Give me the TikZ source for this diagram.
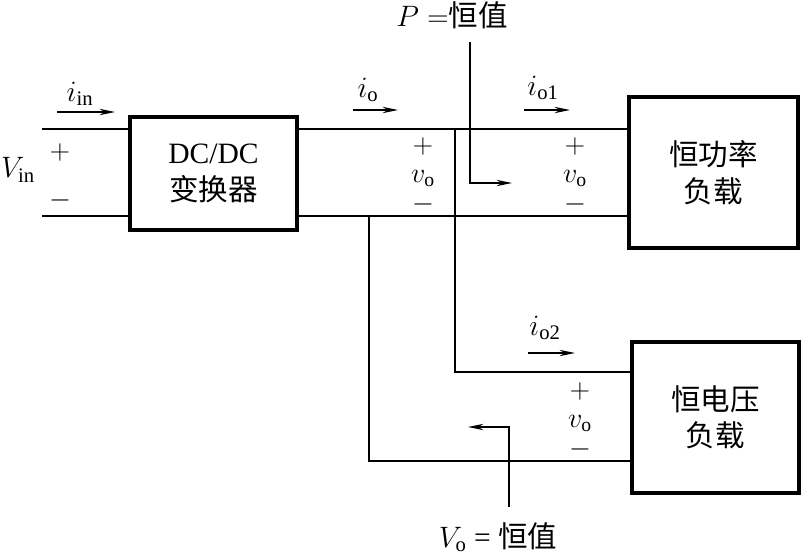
\RequirePackage{fix-cm}
\documentclass[tikz,border=0pt]{standalone}
\usepackage{fontspec}
\setmainfont{Liberation Serif}
\newfontfamily\cjk{Noto Sans CJK SC}
\usetikzlibrary{arrows.meta}
\tikzset{
  >={Stealth[length=11pt,width=4.5pt]},
  block/.style={draw, line width=2.2pt, align=center, font=\fontsize{21}{26}\selectfont},
  wire/.style={line width=1.2pt},
  flow/.style={->, line width=1.2pt},
  polarity/.style={inner sep=0pt, align=center, font=\fontsize{20}{20.5}\selectfont},
}

\begin{document}
\begin{tikzpicture}[x=0.025cm, y=-0.025cm, font=\fontsize{21}{25}\selectfont]
    \useasboundingbox (0,0) rectangle (801,554);
    % Blocos
    \node[block, minimum width=4.175cm, minimum height=2.825cm] (conv)  at (213.5,173.5) {DC/DC\\{\cjk 变换器}};
    \node[block, minimum width=4.225cm, minimum height=3.775cm] (load1) at (713.5,172.5) {{\cjk 恒功率}\\{\cjk 负载}};
    \node[block, minimum width=4.175cm, minimum height=3.775cm] (load2) at (715.5,417.5) {{\cjk 恒电压}\\{\cjk 负载}};
    % Pontos dos fios
    \coordinate (inT) at (42,129);
    \coordinate (inB) at (42,216);
    \coordinate (jT)  at (455,129);
    \coordinate (jB)  at (369,216);
    \coordinate (l2T) at (load2.west |- 0,372);
    \coordinate (l2B) at (load2.west |- 0,461);
    \draw[wire] (inT) -- (conv.west |- inT);
    \draw[wire] (inB) -- (conv.west |- inB);
    \draw[wire] (conv.east |- jT) -- (load1.west |- jT);
    \draw[wire] (conv.east |- jB) -- (load1.west |- jB);
    \draw[wire] (jT) |- (l2T);
    \draw[wire] (jB) |- (l2B);
    % Tensoes
    \node           (vin) at (18,170)  {$V_\mathrm{in}$};
    \node[polarity] (pin) at (60,152)  {$+$};
    \node[polarity] (min) at (60,200)  {$-$};
    \node[polarity] (vo1) at (423,176) {$+$\\$v_\mathrm{o}$\\$-$};
    \node[polarity] (vo2) at (575,176) {$+$\\$v_\mathrm{o}$\\$-$};
    \node[polarity] (vo3) at (580,421) {$+$\\$v_\mathrm{o}$\\$-$};
    % Correntes
    \node (iin)  at (80,94)   {$i_\mathrm{in}$};
    \node (io)   at (368,90)  {$i_\mathrm{o}$};
    \node (io1)  at (543,88)  {$i_\mathrm{o1}$};
    \node (io2)  at (545,328) {$i_\mathrm{o2}$};
    \draw[flow] (57,112)  -- (115,112);
    \draw[flow] (353,110) -- (398,110);
    \draw[flow] (524,110) -- (570,110);
    \draw[flow] (528,353) -- (575,353);
    % Condicoes
    \node (pval) at (452,15)  {$P=${\cjk 恒值}};
    \node (vval) at (498,537) {$V_\mathrm{o}$ = {\cjk 恒值}};
    \coordinate (pa) at (470,42);
    \coordinate (pb) at (512,183);
    \coordinate (va) at (509,507);
    \coordinate (vb) at (468,427);
    \draw[flow] (pa) |- (pb);
    \draw[flow] (va) |- (vb);
\end{tikzpicture}
\end{document}
